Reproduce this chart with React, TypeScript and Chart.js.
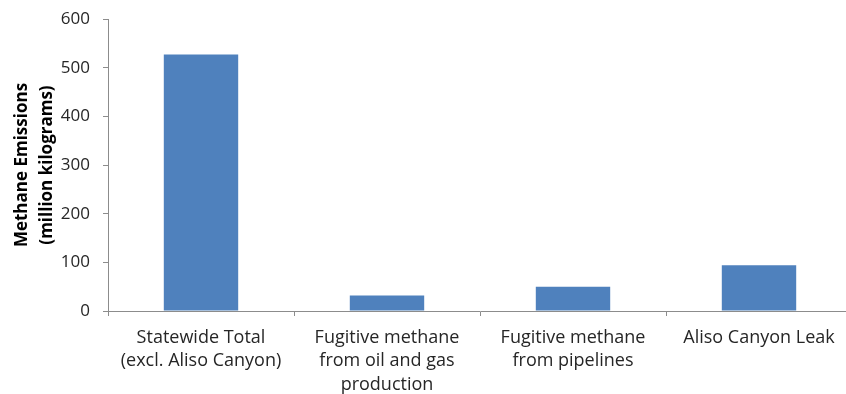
import React, { useEffect, useRef } from "react";
import { Chart, registerables } from "chart.js";

Chart.register(...registerables);

const categories: string[][] = [
  ["Statewide Total", "(excl. Aliso Canyon)"],
  ["Fugitive methane", "from oil and gas", "production"],
  ["Fugitive methane", "from pipelines"],
  ["Aliso Canyon Leak"],
];
const emissions: number[] = [527, 32, 50, 94];
const yTitle: string[] = ["Methane Emissions", "(million kilograms)"];

export default function App() {
  const ref = useRef<HTMLCanvasElement | null>(null);
  useEffect(() => {
    document.body.style.overflow = "hidden";
    const axisColor = "#8c8c8c";
    const chart = new Chart(ref.current as HTMLCanvasElement, {
      type: "bar",
      data: {
        labels: categories,
        datasets: [
          {
            data: emissions,
            backgroundColor: "#4f81bd",
            borderWidth: 0,
            barPercentage: 0.4,
            categoryPercentage: 1,
          },
        ],
      },
      options: {
        animation: false,
        responsive: false,
        maintainAspectRatio: false,
        layout: { padding: { top: 19, right: 8, bottom: 0, left: 0 } },
        plugins: { legend: { display: false }, tooltip: { enabled: false } },
        scales: {
          x: {
            afterFit: (s: any) => {
              s.height = 83;
              s.paddingLeft = 0;
              s.paddingRight = 0;
            },
            grid: {
              display: true,
              drawOnChartArea: false,
              offset: true,
              color: axisColor,
              tickLength: 5,
            },
            border: { color: axisColor, width: 1 },
            ticks: {
              color: "#262626",
              font: { family: "'Open Sans', sans-serif", size: 18, lineHeight: 1.3 },
              padding: 10,
              maxRotation: 0,
              autoSkip: false,
            },
          },
          y: {
            afterFit: (s: any) => {
              s.width = 108;
              s.paddingTop = 0;
              s.paddingBottom = 0;
            },
            min: 0,
            max: 600,
            ticks: {
              stepSize: 100,
              color: "#262626",
              font: { family: "'Open Sans', sans-serif", size: 17 },
              padding: 13,
            },
            grid: {
              display: true,
              drawOnChartArea: false,
              color: axisColor,
              tickLength: 5,
            },
            border: { color: axisColor, width: 1 },
            title: {
              display: true,
              text: yTitle,
              color: "#000000",
              font: { family: "'Open Sans', sans-serif", size: 17, weight: "bold", lineHeight: 1.45 },
              padding: { top: 10, bottom: 3 },
            },
          },
        },
      },
    });
    return () => chart.destroy();
  }, []);
  return (
    <div style={{ position: "fixed", left: 0, top: 0, width: 860, height: 394, background: "#fff" }}>
      <canvas ref={ref} width={860} height={394} />
    </div>
  );
}
